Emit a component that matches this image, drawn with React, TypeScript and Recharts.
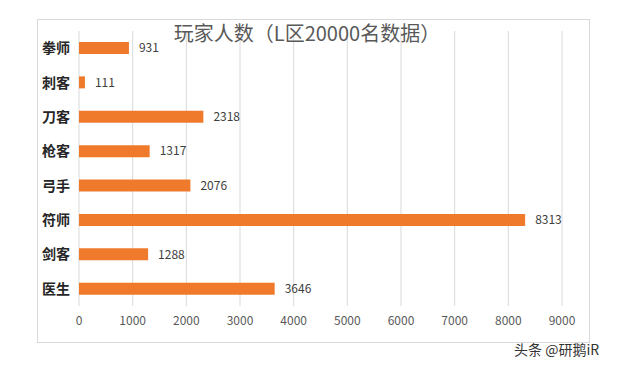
import React from "react";
import {
  BarChart,
  Bar,
  XAxis,
  YAxis,
  CartesianGrid,
  LabelList,
} from "recharts";

const classes = ["拳师", "刺客", "刀客", "枪客", "弓手", "符师", "剑客", "医生"];
const players = [931, 111, 2318, 1317, 2076, 8313, 1288, 3646];
const xTicks = [0, 1000, 2000, 3000, 4000, 5000, 6000, 7000, 8000, 9000];

const data = classes.map((name, i) => ({ name, players: players[i] }));

const font = '"Noto Sans CJK SC", "Noto Sans", sans-serif';

export default function App() {
  return (
    <div
      style={{
        position: "fixed",
        left: 0,
        top: 0,
        width: 640,
        height: 366,
        background: "#fff",
        fontFamily: font,
      }}
    >
      {/* chart frame */}
      <div
        style={{
          position: "absolute",
          left: 37,
          top: 19,
          width: 553,
          height: 324,
          border: "1px solid #d9d9d9",
          boxSizing: "border-box",
        }}
      />
      <BarChart
        width={640}
        height={366}
        data={data}
        layout="vertical"
        margin={{ top: 31, right: 78, bottom: 30, left: 1 }}
        barCategoryGap={0}
      >
        <CartesianGrid horizontal={false} stroke="#d9d9d9" />
        <XAxis
          type="number"
          domain={[0, 9000]}
          ticks={xTicks}
          axisLine={false}
          tickLine={false}
          tickMargin={4}
          height={30}
          tick={{ fill: "#595959", fontSize: 12, fontFamily: font }}
        />
        <YAxis
          type="category"
          dataKey="name"
          width={78}
          axisLine={false}
          tickLine={false}
          tickMargin={3}
          tick={{ fill: "#262626", fontSize: 14, fontWeight: 700, fontFamily: font }}
        />
        <Bar dataKey="players" fill="#EF7A2C" barSize={12} isAnimationActive={false}>
          <LabelList
            dataKey="players"
            position="right"
            offset={10}
            style={{ fill: "#404040", fontSize: 12, fontFamily: font }}
          />
        </Bar>
      </BarChart>
      <div
        style={{
          position: "absolute",
          left: 0,
          width: 614,
          top: 18,
          textAlign: "center",
          fontSize: 20,
          color: "#595959",
          whiteSpace: "nowrap",
        }}
      >
        玩家人数（L区20000名数据）
      </div>
      <div
        style={{
          position: "absolute",
          left: 514,
          top: 339,
          fontSize: 14,
          color: "#333",
          whiteSpace: "nowrap",
        }}
      >
        头条 @研鹅iR
      </div>
    </div>
  );
}
